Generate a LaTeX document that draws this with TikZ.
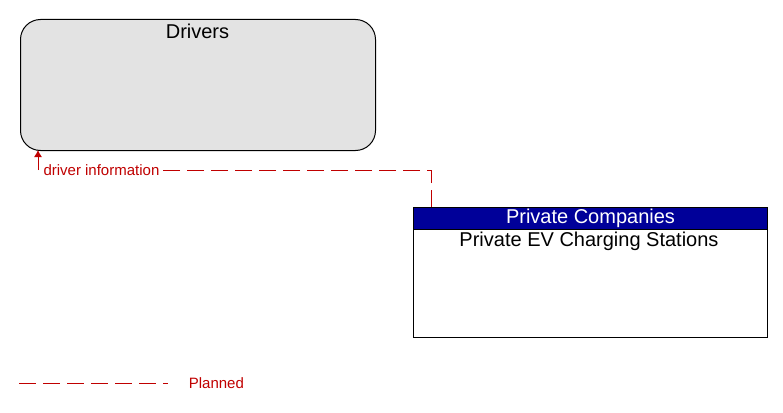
\documentclass[tikz,border=0pt]{standalone}
\usepackage{fontspec}
\setmainfont{Liberation Sans}
\usepackage{tikz}
\usetikzlibrary{positioning,arrows.meta}

\definecolor{plan}{RGB}{192,0,0}
\definecolor{hdr}{RGB}{0,0,153}
\definecolor{grayfill}{RGB}{227,227,227}

\tikzset{
  planned/.style={draw=plan, dash pattern=on 17pt off 7pt, line width=1pt},
  flowlbl/.style={text=plan, font=\fontsize{15}{17}\selectfont, inner sep=1pt, fill=white}
}

\begin{document}
\begin{tikzpicture}[x=1pt, y=-1pt, line width=1pt]
\useasboundingbox (0,0) rectangle (783,412);
\node (drv) [draw, rounded corners=20pt, fill=grayfill, minimum width=355pt, minimum height=131pt, anchor=north west] at (20,19) {};
\node (drvt) [font=\fontsize{20}{22}\selectfont, anchor=center] at (197.5,31) {Drivers};
\node (pcb) [draw, minimum width=354pt, minimum height=130pt, anchor=north west] at (413,207) {};
\node (pch) [draw, fill=hdr, text=white, minimum width=354pt, minimum height=22pt, anchor=north west, font=\fontsize{20}{22}\selectfont, inner sep=0pt] at (413,207) {Private Companies};
\node (pct) [font=\fontsize{20}{22}\selectfont, anchor=center] at (589,241) {Private EV Charging Stations};
\coordinate (s) at (431,207);
\coordinate (c1) at (431,170);
\coordinate (c2) at (38,170);
\coordinate (e) at (38,150);
\draw[planned] (s) -- (c1) -- (c2);
\draw[draw=plan, -{Latex[length=7pt,width=8pt]}] (c2) -- (e);
\node (lbl) [flowlbl, anchor=west] at (42,170) {driver information};
% legend
\coordinate (l1) at (19,383);
\coordinate (l2) at (168,383);
\draw[planned] (l1) -- (l2);
\node (leg) [text=plan, font=\fontsize{15}{17}\selectfont, anchor=west] at (185,383) {Planned};
\end{tikzpicture}
\end{document}
